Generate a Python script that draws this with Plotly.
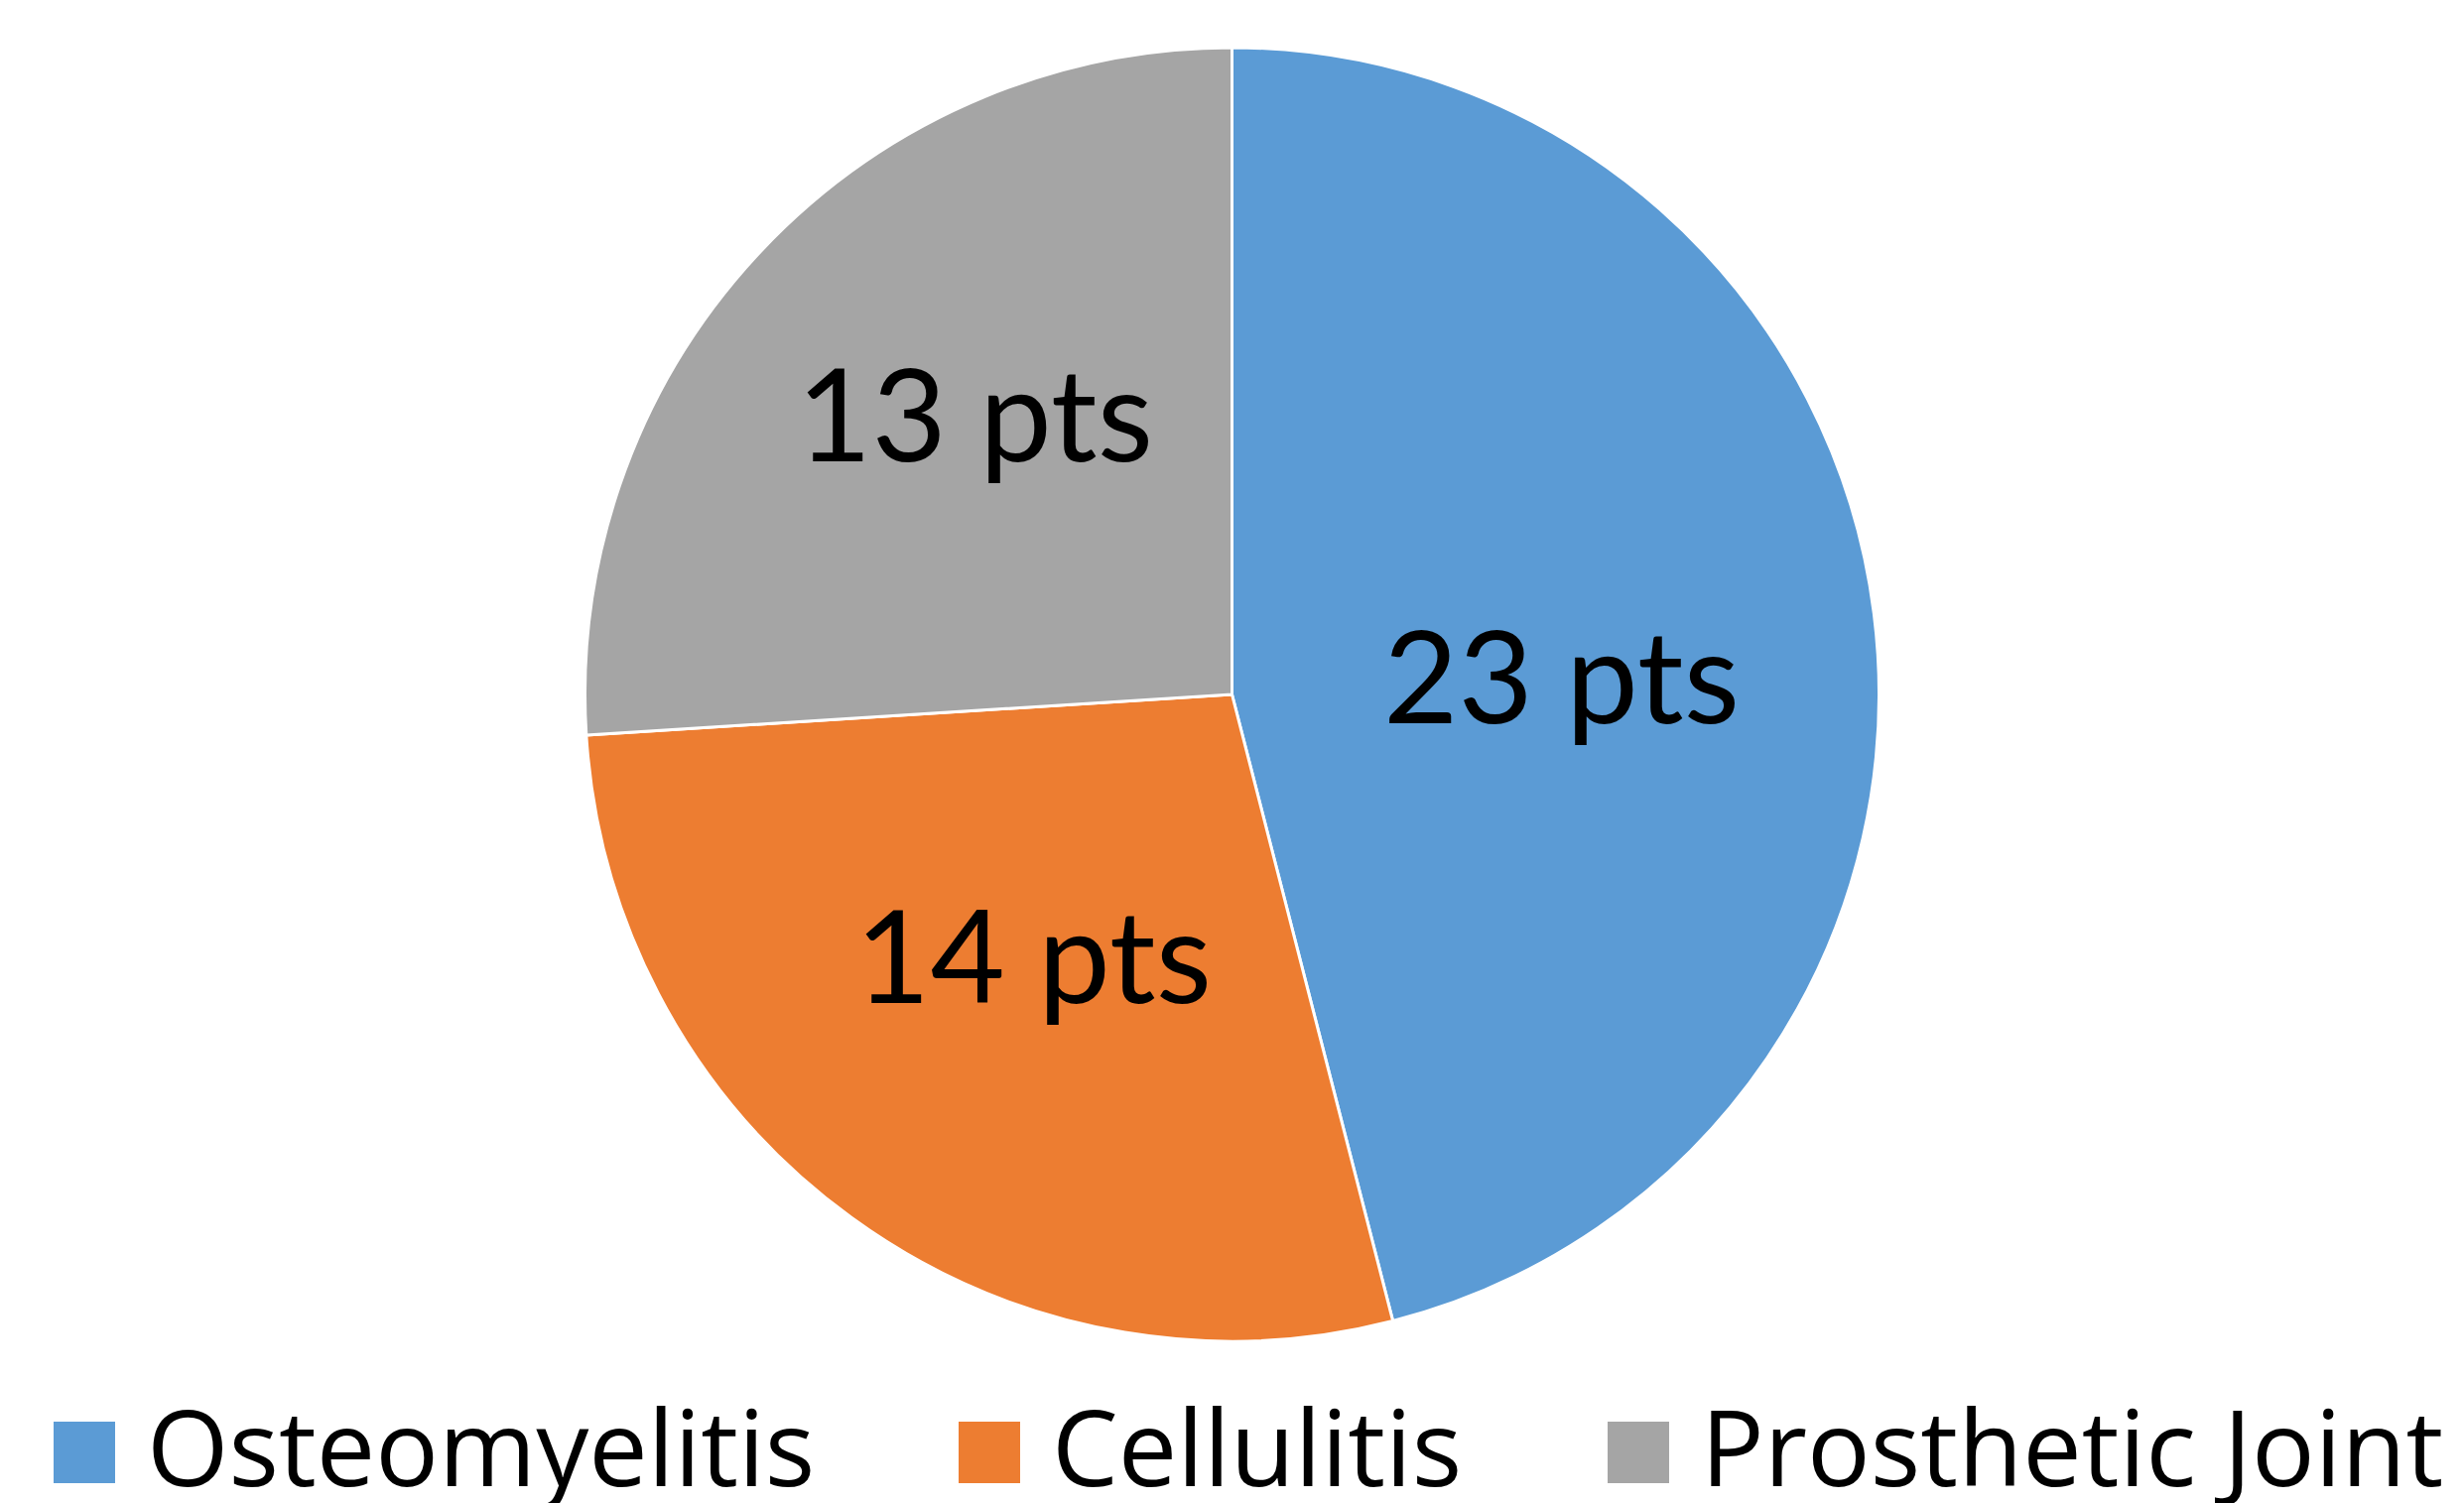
import math
import plotly.graph_objects as go

categories = ["Osteomyelitis", "Cellulitis", "Prosthetic Joint"]
values = [23, 14, 13]
colors = ["#5B9BD5", "#ED7D31", "#A5A5A5"]
label_suffix = " pts"

# label placement style (fraction of radius, angular nudge in degrees)
label_r = [0.51, 0.505, 0.59]
label_da = [3.5, 1.5, 4.5]

W, H = 2483, 1515
OFF = 8  # default page body margin in the browser
mt, ml, mr = 48 - OFF, 0, 16
plot_h = 1304
mb = H - mt - plot_h
plot_w = W - ml - mr
radius_px = min(plot_w, plot_h) / 2
LABEL_FONT = "Lato, Open Sans, sans-serif"
LEGEND_FONT = "Open Sans, Noto Sans, sans-serif"

fig = go.Figure(go.Pie(
    labels=categories,
    values=values,
    sort=False,
    direction="clockwise",
    rotation=0,
    marker=dict(colors=colors, line=dict(color="white", width=3)),
    textinfo="none",
    hoverinfo="label+value",
    showlegend=False,
))

total = sum(values)
cum = 0
annotations = []
for v, rf, da in zip(values, label_r, label_da):
    mid = (cum + v / 2) / total * 2 * math.pi + math.radians(da)
    cum += v
    r = rf * radius_px
    dx = r * math.sin(mid)
    dy = r * math.cos(mid)
    annotations.append(dict(
        x=0.5 + dx / plot_w, y=0.5 + dy / plot_h, xref="paper", yref="paper",
        text=f"{v}{label_suffix}", showarrow=False,
        font=dict(family=LABEL_FONT, size=130, color="black"),
        xanchor="center", yanchor="middle",
    ))

# custom legend with large squares like the original
legend_sq_x = [54, 966, 1620]
sq = 62
legend_sq_y = 1464
legend_txt_y = 1457
shapes = []
for cat, col, x0 in zip(categories, colors, legend_sq_x):
    px0 = x0 - OFF - ml
    yc = (H - mb - (legend_sq_y - OFF)) / plot_h
    yt = (H - mb - (legend_txt_y - OFF)) / plot_h
    shapes.append(dict(type="rect", xref="paper", yref="paper",
                       x0=px0 / plot_w, x1=(px0 + sq) / plot_w,
                       y0=yc - sq / 2 / plot_h, y1=yc + sq / 2 / plot_h,
                       fillcolor=col, line=dict(width=0)))
    annotations.append(dict(
        x=(px0 + sq + 30) / plot_w, y=yt, xref="paper", yref="paper",
        text=cat, showarrow=False, xanchor="left", yanchor="middle",
        font=dict(family=LEGEND_FONT, size=106, color="black"),
    ))

fig.update_layout(
    width=W, height=H,
    margin=dict(t=mt, b=mb, l=ml, r=mr, pad=0),
    paper_bgcolor="white", plot_bgcolor="white",
    annotations=annotations, shapes=shapes,
    showlegend=False,
)
fig.write_html("out.html")
